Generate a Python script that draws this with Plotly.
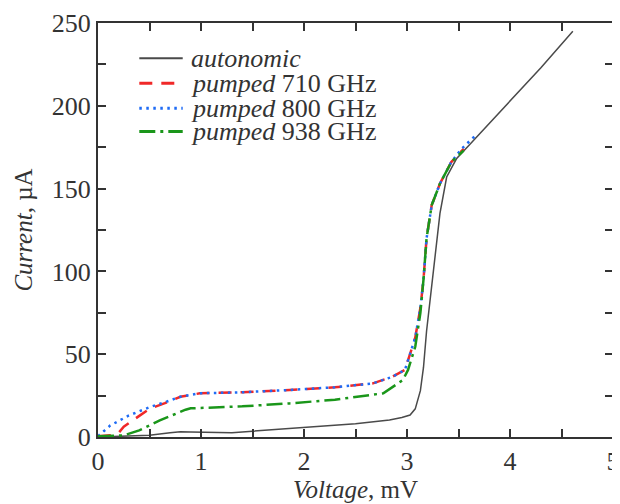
import plotly.graph_objects as go

# autonomic (unpumped) I-V curve
auto_v = [0.0, 0.3, 0.5, 0.7, 0.8, 0.9, 1.0, 1.2, 1.3, 1.5, 1.86, 2.2, 2.5, 2.83, 2.95, 3.03, 3.08, 3.13, 3.16, 3.19, 3.22, 3.26, 3.32, 3.385, 3.48, 3.6, 4.0, 4.3, 4.61]
auto_i = [0.0, 0.5, 1.0, 2.5, 3.2, 3.0, 3.0, 2.6, 2.6, 3.5, 5.2, 6.5, 8.0, 10.3, 11.8, 13.3, 17.0, 28.0, 42.0, 64.0, 80.0, 100.0, 135.0, 157.0, 168.0, 176.0, 203.0, 223.0, 245.0]

# pumped 710 GHz
p710_v = [0.0, 0.12, 0.2, 0.25, 0.39, 0.5, 0.65, 0.8, 0.99, 1.4, 1.86, 2.3, 2.67, 2.86, 2.98, 3.03, 3.08, 3.13, 3.16, 3.19, 3.24, 3.32, 3.43, 3.55]
p710_i = [0.5, 1.0, 2.5, 6.2, 12.3, 17.0, 20.5, 24.3, 26.4, 27.0, 28.4, 30.0, 32.4, 36.4, 40.5, 50.7, 60.0, 78.0, 95.0, 120.0, 140.0, 153.0, 166.0, 174.0]

# pumped 800 GHz
p800_v = [0.0, 0.05, 0.12, 0.3, 0.5, 0.65, 0.8, 0.99, 1.4, 1.86, 2.3, 2.67, 2.86, 2.98, 3.03, 3.08, 3.13, 3.16, 3.19, 3.24, 3.32, 3.43, 3.53, 3.68]
p800_i = [0.5, 3.0, 7.0, 13.0, 18.0, 21.0, 24.3, 26.4, 27.0, 28.4, 30.0, 32.4, 36.4, 40.5, 50.7, 60.0, 78.0, 95.0, 120.0, 140.0, 153.0, 166.0, 174.0, 183.0]

# pumped 938 GHz
p938_v = [0.0, 0.25, 0.4, 0.6, 0.85, 0.9, 1.4, 1.86, 2.3, 2.77, 2.96, 3.01, 3.08, 3.13, 3.16, 3.19, 3.24, 3.32, 3.43, 3.55]
p938_i = [0.5, 1.0, 4.0, 10.0, 16.5, 17.3, 18.5, 20.3, 22.5, 26.4, 34.4, 40.5, 54.5, 75.0, 95.0, 120.0, 140.0, 153.0, 166.0, 173.0]

x_ticks = [0, 1, 2, 3, 4, 5]
y_ticks = [0, 50, 100, 150, 200, 250]

series_names = ["<i>autonomic</i>", "<i>pumped</i> 710 GHz", "<i>pumped</i> 800 GHz", "<i>pumped</i> 938 GHz"]
series_colors = ["#4a4a4a", "#f02828", "#1f6cf5", "#1a961a"]
series_dash = ["solid", "13px,9px", "2.5px,4.5px", "16px,5px,3px,5px"]
series_width = [1.5, 2.5, 2.5, 2.5]
series_v = [auto_v, p710_v, p800_v, p938_v]
series_i = [auto_i, p710_i, p800_i, p938_i]

FONT = "Liberation Serif"
TXT = "#333333"

fig = go.Figure()
for name, col, dash, w, v, i in zip(series_names, series_colors, series_dash, series_width, series_v, series_i):
    fig.add_trace(go.Scatter(x=v, y=i, mode="lines", name=name, showlegend=False,
                             line=dict(color=col, width=w, dash=dash)))

axis_common = dict(showline=True, linecolor="#333333", linewidth=2, mirror="ticks",
                   ticks="inside", ticklen=8, tickwidth=1.5, tickcolor="#333333",
                   showgrid=False, zeroline=False, automargin=False,
                   tickfont=dict(family=FONT, size=26, color=TXT))

fig.update_xaxes(range=[0, 5], tickvals=x_ticks, ticktext=[str(t) for t in x_ticks],
                 minor=dict(dtick=0.5, ticks="inside", ticklen=8, tickwidth=1.5, tickcolor="#333333"),
                 title=dict(text="<i>Voltage</i>, mV", standoff=2,
                            font=dict(family=FONT, size=25, color=TXT)),
                 **axis_common)
fig.update_yaxes(range=[0, 250], tickvals=y_ticks, ticktext=[str(t) for t in y_ticks],
                 minor=dict(dtick=25, ticks="inside", ticklen=8, tickwidth=1.5, tickcolor="#333333"),
                 title=dict(text="<i>Current</i>, µA", standoff=12,
                            font=dict(family=FONT, size=25, color=TXT)),
                 **axis_common)

# legend drawn manually (row spacing tighter than plotly's legend allows)
leg_x0, leg_x1, leg_tx = 0.0802, 0.1645, 0.178
leg_rows = [0.9147, 0.8543, 0.794, 0.7377]
for name, col, dash, w, yy in zip(series_names, series_colors, series_dash, series_width, leg_rows):
    fig.add_shape(type="line", xref="paper", yref="paper", x0=leg_x0, x1=leg_x1, y0=yy, y1=yy,
                  line=dict(color=col, width=w + 0.5, dash=dash))
    fig.add_annotation(xref="paper", yref="paper", x=leg_tx, y=yy, text=name, showarrow=False,
                       xanchor="left", yanchor="middle", borderpad=0,
                       font=dict(family=FONT, size=26, color=TXT))

# page body has an 8px default margin, so the figure is sized/offset to compensate
fig.update_layout(
    width=612, height=496,
    margin=dict(l=90, r=7, t=15, b=67),
    plot_bgcolor="white", paper_bgcolor="white",
    showlegend=False,
)

fig.write_html("out.html")
